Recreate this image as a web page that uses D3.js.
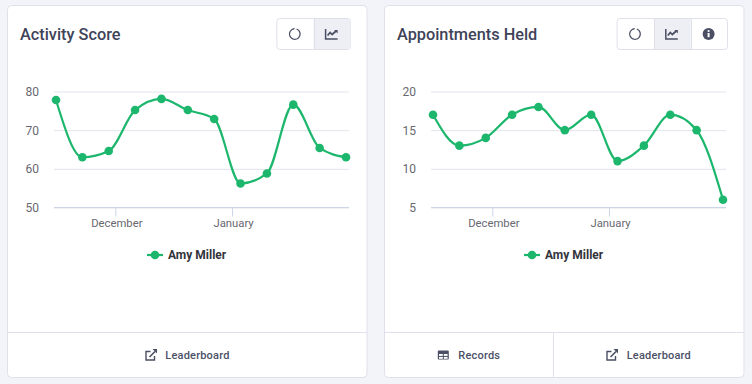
<!DOCTYPE html>
<html>
<head>
<meta charset="utf-8">
<script src="https://cdn.jsdelivr.net/npm/d3@7"></script>
<style>
html, body { margin: 0; padding: 0; background: #f3f4fa; overflow: hidden; }
svg { display: block; font-family: Roboto, "Noto Sans", sans-serif; }
.title { font-size: 16.3px; font-weight: 500; fill: #3e4359; }
.axis text { font-size: 12px; fill: #68686f; font-family: Roboto, "Noto Sans", sans-serif; }
.axis.x-axis text { font-size: 11.3px; }
.legend { font-size: 12px; font-weight: 700; fill: #33343c; }
.link { font-size: 11px; font-weight: 500; fill: #4b5066; letter-spacing: .2px; }
</style>
</head>
<body>
<svg id="chart" width="752" height="384"></svg>
<script>
const dates = ["2021-11-15", "2021-11-22", "2021-11-29", "2021-12-06", "2021-12-13", "2021-12-20",
               "2021-12-27", "2022-01-03", "2022-01-10", "2022-01-17", "2022-01-24", "2022-01-31"]
const monthTicks = ["2021-12-01", "2022-01-01"]
const monthLabels = ["December", "January"]
const seriesName = "Amy Miller"

const activityScore = [77.8, 63, 64.6, 75.2, 78.1, 75.2, 72.9, 56.2, 58.8, 76.6, 65.4, 63]
const activityTicks = [50, 60, 70, 80]
const appointmentsHeld = [17, 13, 14, 17, 18, 15, 17, 11, 13, 17, 15, 6]
const appointmentsTicks = [5, 10, 15, 20]

const GREEN = "#1cb76d"
const BORDER = "#dfe0ea"
const ICON = "#4a4f63"

const svg = d3.select("#chart")
const parsed = dates.map(d => new Date(d + "T06:00:00Z"))

// small icon set, drawn in a 16x16 box centred on 0,0
function iconRing(g) {
    g.append("path")
        .attr("d", d3.arc().innerRadius(4.7).outerRadius(5.9).startAngle(0.35).endAngle(2 * Math.PI - 0.05)())
        .attr("fill", ICON)
}
function iconLine(g) {
    g.append("path").attr("d", "M-6 -5V5H6").attr("fill", "none").attr("stroke", ICON).attr("stroke-width", 1.5)
    g.append("path").attr("d", "M-4 1.5L-1.5 -1.5L0.5 0.5L4.5 -3").attr("fill", "none").attr("stroke", ICON).attr("stroke-width", 1.7)
    g.append("path").attr("d", "M2.5 -4H6V-0.5Z").attr("fill", ICON)
}
function iconInfo(g) {
    g.append("circle").attr("r", 6).attr("fill", ICON)
    g.append("rect").attr("x", -1).attr("y", -1).attr("width", 2).attr("height", 4.2).attr("fill", "#fff")
    g.append("circle").attr("cy", -3).attr("r", 1.1).attr("fill", "#fff")
}
function iconExternal(g) {
    g.append("path").attr("d", "M-0.5 -3.5H-5V5H3.5V1").attr("fill", "none").attr("stroke", ICON).attr("stroke-width", 1.4)
    g.append("path").attr("d", "M-1.5 2L4 -3.5").attr("fill", "none").attr("stroke", ICON).attr("stroke-width", 1.6)
    g.append("path").attr("d", "M1.5 -6H6V-1.5Z").attr("fill", ICON)
}
function iconTable(g) {
    g.append("rect").attr("x", -5.5).attr("y", -4.5).attr("width", 11).attr("height", 9).attr("rx", 1).attr("fill", ICON)
    g.selectAll("rect.cell").data([[-4.3, -1], [0.5, -1], [-4.3, 1.9], [0.5, 1.9]]).join("rect")
        .attr("class", "cell")
        .attr("x", d => d[0]).attr("y", d => d[1])
        .attr("width", 3.8).attr("height", 1.9).attr("fill", "#fff")
}

function drawCard(opts) {
    const g = svg.append("g").attr("transform", `translate(${opts.x},0)`)

    // card
    g.append("rect").attr("x", 7.5).attr("y", 5.5).attr("width", 359.5).attr("height", 372).attr("rx", 4)
        .attr("fill", "#fff").attr("stroke", BORDER)
    g.append("line").attr("x1", 8).attr("x2", 367).attr("y1", 332.5).attr("y2", 332.5).attr("stroke", BORDER)

    g.append("text").attr("class", "title").attr("x", 20).attr("y", 40).text(opts.title)

    // toggle buttons, right aligned at 350.5
    const btnW = 36.8
    const btnLeft = 350.5 - btnW * opts.buttons.length
    const btns = g.append("g")
    btns.append("rect").attr("x", btnLeft).attr("y", 18.5).attr("width", btnW * opts.buttons.length).attr("height", 31)
        .attr("rx", 3).attr("fill", "#fff").attr("stroke", BORDER)
    opts.buttons.forEach((b, i) => {
        const bx = btnLeft + btnW * i
        if (b === iconLine) {
            btns.append("rect").attr("x", bx).attr("y", 19).attr("width", btnW).attr("height", 30).attr("fill", "#eeeff5")
        }
        if (i > 0) {
            btns.append("line").attr("x1", Math.round(bx) + 0.5).attr("x2", Math.round(bx) + 0.5)
                .attr("y1", 19).attr("y2", 49).attr("stroke", BORDER)
        }
        b(btns.append("g").attr("transform", `translate(${bx + btnW / 2 - 0.5},34)`))
    })

    // chart
    const x = d3.scaleUtc().domain(d3.extent(parsed)).range([56, 346])
    const y = d3.scaleLinear().domain(d3.extent(opts.ticks)).range([207.5, 91.5])

    const yAxis = g.append("g").attr("class", "axis").attr("transform", "translate(54,0)")
        .call(d3.axisLeft(y).tickValues(opts.ticks).tickSize(-295).tickPadding(15))
    yAxis.select(".domain").remove()
    yAxis.selectAll("line").attr("stroke", "#e2e4ec")

    const monthDates = monthTicks.map(d => new Date(d + "T00:00:00Z"))
    const xAxis = g.append("g").attr("class", "axis x-axis").attr("transform", "translate(0,207.5)")
        .call(d3.axisBottom(x).tickValues(monthDates).tickSize(9).tickPadding(2)
            .tickFormat((d, i) => monthLabels[i]))
    xAxis.select(".domain").remove()
    xAxis.selectAll("line").attr("stroke", "#cdd6e6")
    xAxis.selectAll("text").attr("dx", 1)
    g.append("line").attr("x1", 54).attr("x2", 349).attr("y1", 207.5).attr("y2", 207.5).attr("stroke", "#cdd6e6")

    const line = d3.line()
        .x((d, i) => x(parsed[i]))
        .y(d => y(d))
        .curve(d3.curveMonotoneX)

    g.append("path").datum(opts.values).attr("d", line)
        .attr("fill", "none").attr("stroke", GREEN).attr("stroke-width", 2.2)
    g.selectAll("circle.pt").data(opts.values).join("circle")
        .attr("class", "pt")
        .attr("cx", (d, i) => x(parsed[i]))
        .attr("cy", d => y(d))
        .attr("r", 4.3)
        .attr("fill", GREEN)

    // legend
    g.append("line").attr("x1", 147).attr("x2", 163).attr("y1", 255).attr("y2", 255).attr("stroke", GREEN).attr("stroke-width", 2.2)
    g.append("circle").attr("cx", 155).attr("cy", 255).attr("r", 4.3).attr("fill", GREEN)
    g.append("text").attr("class", "legend").attr("x", 168).attr("y", 259).text(seriesName)

    // footer links
    opts.links.forEach(l => {
        l.icon(g.append("g").attr("transform", `translate(${l.iconX},355)`))
        g.append("text").attr("class", "link").attr("x", l.textX).attr("y", 359).text(l.label)
    })
    if (opts.links.length > 1) {
        g.append("line").attr("x1", 176.5).attr("x2", 176.5).attr("y1", 333).attr("y2", 377).attr("stroke", BORDER)
    }
}

drawCard({
    x: 0, title: "Activity Score", values: activityScore, ticks: activityTicks,
    buttons: [iconRing, iconLine],
    links: [{label: "Leaderboard", icon: iconExternal, iconX: 151, textX: 165.3}]
})
drawCard({
    x: 377, title: "Appointments Held", values: appointmentsHeld, ticks: appointmentsTicks,
    buttons: [iconRing, iconLine, iconInfo],
    links: [{label: "Records", icon: iconTable, iconX: 66.3, textX: 81.3},
            {label: "Leaderboard", icon: iconExternal, iconX: 235, textX: 249.7}]
})
</script>
</body>
</html>
